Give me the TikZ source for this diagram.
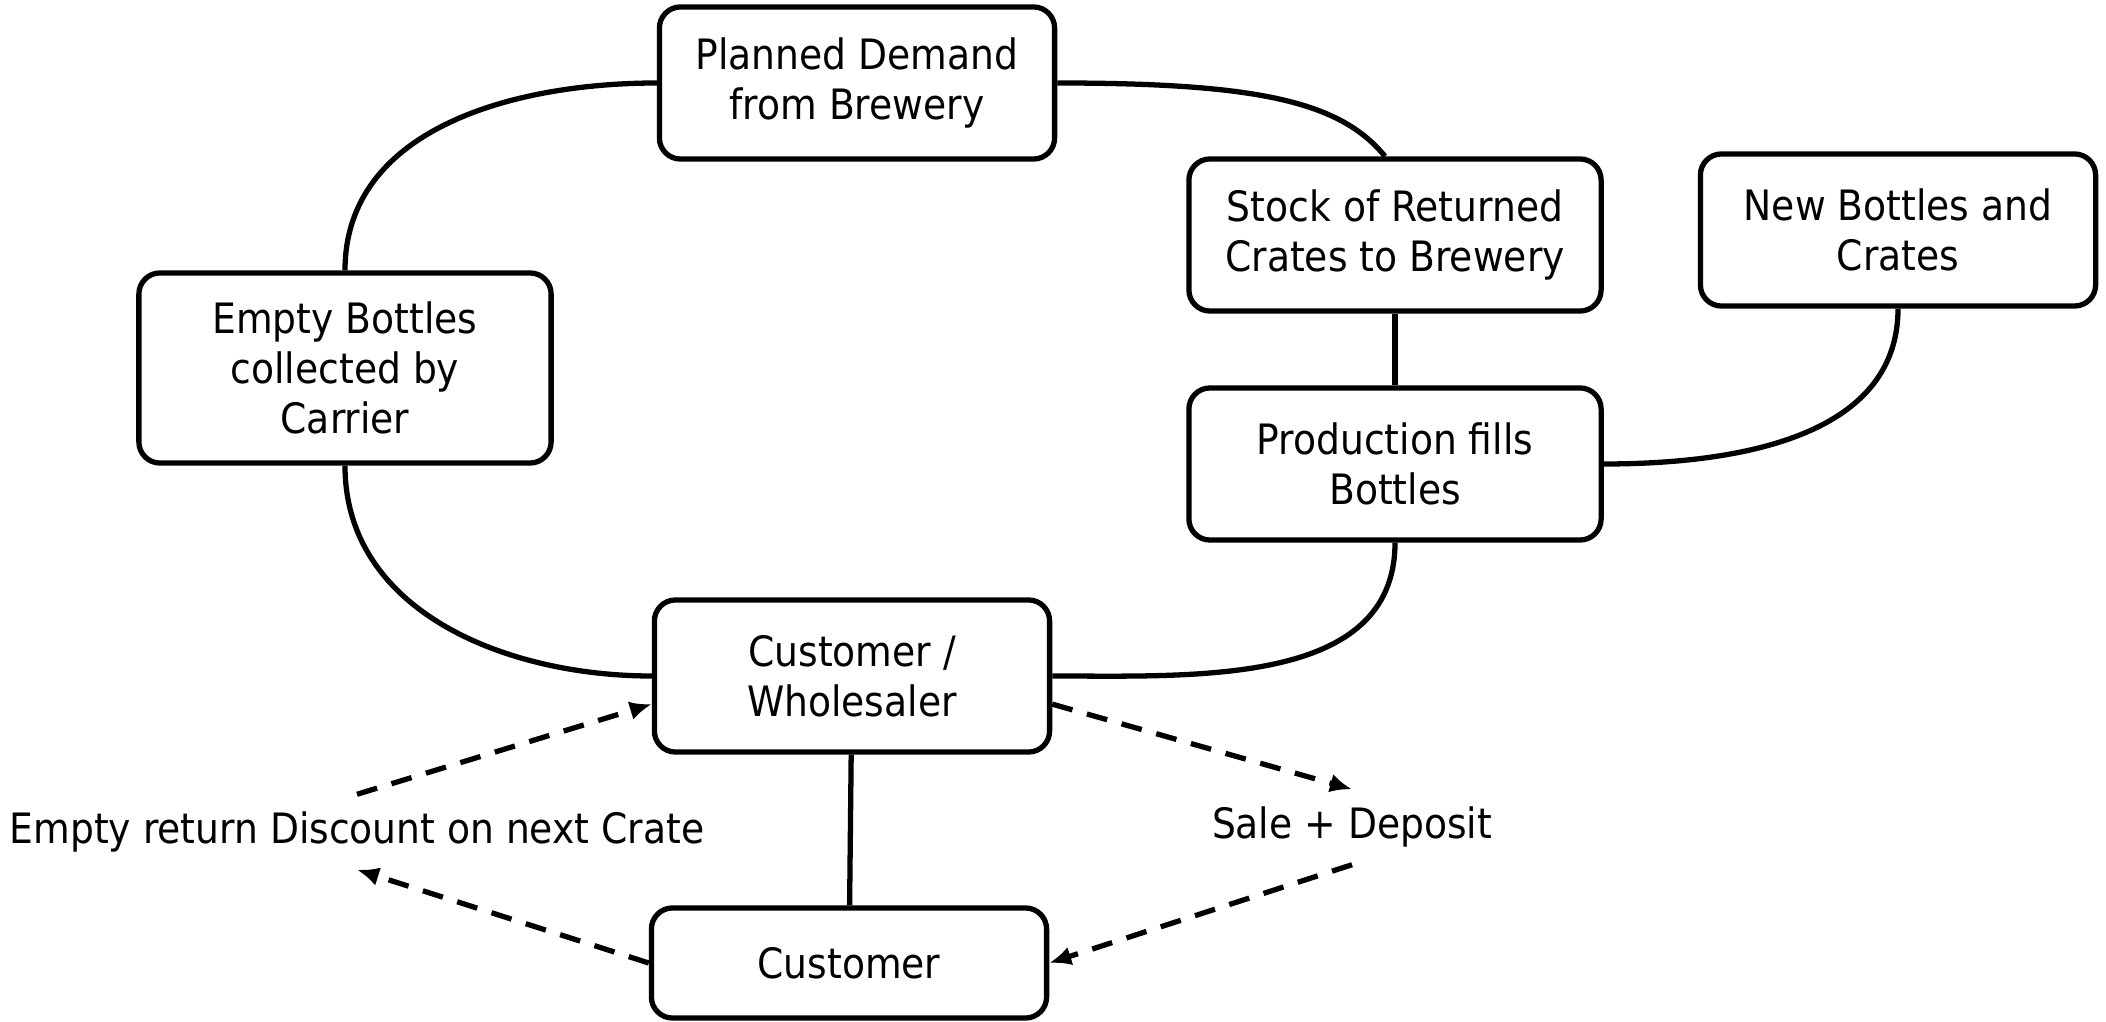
\documentclass[tikz,border=0pt]{standalone}
\usepackage{fontspec}
\setmainfont{DejaVu Sans Condensed}
\usetikzlibrary{arrows.meta,calc}
\tikzset{
  box/.style     = {draw, line width=1.5pt, rounded corners=6pt, align=center,
                    minimum width=3.95cm, minimum height=1.52cm, inner sep=2pt},
  widebox/.style = {minimum width=4.12cm},
  link/.style    = {line width=1.5pt},
  flow/.style    = {-{Latex[length=2.2mm,width=1.9mm]}, line width=1.5pt,
                    dash pattern=on 2.1mm off 1.5mm},
  lbl/.style     = {inner sep=0pt, minimum height=7.4mm},
}

\begin{document}
\begin{tikzpicture}[x=0.01cm, y=-0.01cm, font=\fontsize{11.9}{14.2}\selectfont]
\useasboundingbox (0,0) rectangle (2106,1022);
% ---------------- boxes ----------------
\node[box] (plan) at (857,83) {Planned Demand\\from Brewery};
\node[box, widebox] (stock) at (1395,235) {Stock of Returned\\Crates to Brewery};
\node[box] (newb) at (1898,230) {New Bottles and\\Crates};
\node[box, widebox, minimum height=1.9cm] (empty) at (345,368)
   {Empty Bottles\\collected by\\Carrier};
\node[box, widebox] (prod) at (1395,464) {Production fills\\Bottles};
\node[box] (custw) at (852,676) {Customer /\\Wholesaler};
\node[box, minimum height=1.1cm] (cust) at (849,963) {Customer};
% ---------------- labels ----------------
\node[lbl] (ret) at (357,832) {Empty return Discount on next Crate};
\node[lbl] (sale) at (1352,827) {Sale + Deposit};
% ---------------- cycle ----------------
\draw[link] (plan.west) to[out=180,in=90] (empty.north);
\draw[link] (plan.east) .. controls +(200,0) and +(-45,-55) .. ($(stock.north)+(-10,0)$);
\draw[link] (empty.south) to[out=-90,in=180] (custw.west);
\draw[link] (prod.south) to[out=-90,in=0] (custw.east);
\draw[link] (stock) -- (prod);
\draw[link] (newb.south) to[out=-90,in=0] (prod.east);
\draw[link] (custw) -- (cust);
% ---------------- returns and sales ----------------
\draw[flow] (ret.north) -- (custw.188);
\draw[flow] (cust.west) -- (ret.south);
\draw[flow] (custw.352) -- (sale.north);
\draw[flow] (sale.south) -- (cust.east);
\end{tikzpicture}
\end{document}
